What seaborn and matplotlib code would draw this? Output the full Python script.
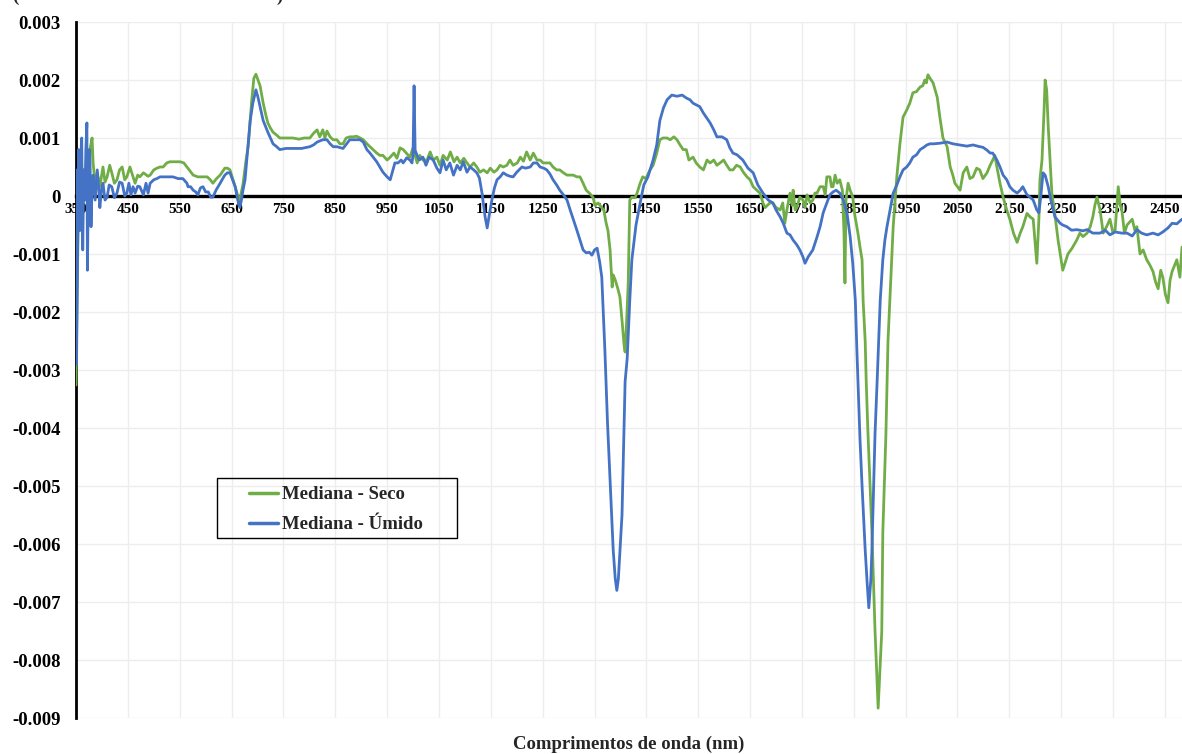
import numpy as np
import pandas as pd
import matplotlib
matplotlib.use("Agg")
import matplotlib.pyplot as plt
from matplotlib.patches import Rectangle
import seaborn as sns

# ---------------- data ----------------
seco_nm = [350, 352, 354, 357, 360, 363, 366, 369, 373, 377, 381, 383, 387, 391, 396, 402, 406, 410, 415, 419,
           424, 429, 434, 439, 444, 448, 454, 459, 464, 469, 473, 480, 489, 493, 500, 506, 512, 518, 525, 531,
           540, 551, 558, 564, 570, 576, 585, 595, 603, 609, 614, 621, 628, 637, 642, 647, 652, 657, 662, 664,
           672, 678, 682, 686, 689, 693, 697, 701, 705, 711, 716, 720, 725, 730, 737, 743, 755, 768, 780, 790,
           801, 808, 815, 820, 826, 830, 834, 840, 846, 853, 859, 865, 871, 878, 884, 891, 898, 904, 911, 917,
           923, 930, 936, 942, 950, 956, 963, 969, 975, 981, 987, 994, 1000, 1008, 1013, 1019, 1027, 1033, 1039, 1046,
           1052, 1058, 1066, 1072, 1079, 1085, 1091, 1098, 1104, 1110, 1117, 1123, 1129, 1136, 1143, 1149, 1156, 1162, 1168, 1174,
           1181, 1187, 1193, 1201, 1207, 1213, 1219, 1226, 1232, 1239, 1245, 1251, 1258, 1264, 1270, 1277, 1283, 1290, 1297, 1303,
           1309, 1316, 1322, 1328, 1334, 1340, 1347, 1351, 1357, 1364, 1368, 1372, 1376, 1380, 1384, 1386, 1390, 1395, 1399, 1403,
           1407, 1409, 1412, 1415, 1418, 1422, 1428, 1432, 1438, 1443, 1449, 1457, 1463, 1470, 1476, 1482, 1490, 1496, 1503, 1509,
           1515, 1521, 1527, 1532, 1540, 1546, 1553, 1560, 1567, 1573, 1580, 1586, 1592, 1599, 1605, 1611, 1617, 1624, 1631, 1637,
           1644, 1650, 1656, 1663, 1669, 1675, 1679, 1688, 1694, 1700, 1708, 1713, 1717, 1721, 1727, 1731, 1733, 1737, 1740, 1746,
           1752, 1756, 1760, 1766, 1771, 1775, 1779, 1785, 1791, 1795, 1798, 1804, 1807, 1810, 1814, 1818, 1823, 1828, 1831, 1833,
           1835, 1839, 1843, 1848, 1852, 1858, 1862, 1866, 1868, 1872, 1874, 1877, 1885, 1891, 1897, 1904, 1906, 1912, 1916, 1920,
           1926, 1933, 1939, 1945, 1952, 1958, 1964, 1971, 1978, 1983, 1987, 1990, 1993, 1997, 2003, 2011, 2016, 2022, 2030, 2036,
           2041, 2045, 2050, 2055, 2061, 2068, 2074, 2080, 2087, 2093, 2099, 2107, 2113, 2118, 2122, 2126, 2132, 2138, 2145, 2151,
           2158, 2165, 2171, 2176, 2184, 2190, 2196, 2203, 2207, 2209, 2213, 2217, 2219, 2222, 2225, 2232, 2238, 2244, 2253, 2258,
           2263, 2271, 2280, 2286, 2292, 2300, 2306, 2311, 2315, 2319, 2325, 2331, 2338, 2344, 2350, 2354, 2360, 2364, 2367, 2372,
           2377, 2382, 2387, 2392, 2396, 2402, 2408, 2415, 2421, 2427, 2432, 2437, 2442, 2446, 2451, 2456, 2460, 2464, 2469, 2473,
           2479, 2483]
seco_val = [-0.00326, -0.0018, -0.0006, 0.0001, -0.00016, 0.00045, -0.00007, 0.00036, -0.00024, 0.0008, 0.001, 0.00057, 0.0002, 0.0004, 0.00016, 0.0005, 0.00024, 0.00033, 0.00053, 0.0004,
            0.00022, 0.00028, 0.00045, 0.0005, 0.00028, 0.00033, 0.0005, 0.00036, 0.00022, 0.00036, 0.00033, 0.0004, 0.00034, 0.00036, 0.00045, 0.00048, 0.0005, 0.0005, 0.00057, 0.00059,
            0.00059, 0.00059, 0.00057, 0.0005, 0.00043, 0.00036, 0.00033, 0.00033, 0.00033, 0.00028, 0.00022, 0.0003, 0.00036, 0.00048, 0.00048, 0.00045, 0.0003, 0.00016, 0.0, -0.00015,
            0.0002, 0.00062, 0.00085, 0.0013, 0.00166, 0.00203, 0.0021, 0.002, 0.0019, 0.0016, 0.0014, 0.00126, 0.00117, 0.0011, 0.00105, 0.001, 0.001, 0.001, 0.00098, 0.001,
            0.001, 0.00108, 0.00114, 0.00102, 0.00114, 0.001, 0.00112, 0.00102, 0.00097, 0.00097, 0.0009, 0.0009, 0.001, 0.00102, 0.00102, 0.00103, 0.001, 0.00097, 0.0009, 0.00085,
            0.0008, 0.00074, 0.0007, 0.0007, 0.00062, 0.00067, 0.00074, 0.00065, 0.00083, 0.0008, 0.00074, 0.00067, 0.00083, 0.00057, 0.0007, 0.00062, 0.00062, 0.00076, 0.00062, 0.00067,
            0.00053, 0.0007, 0.00062, 0.00076, 0.00059, 0.00067, 0.00057, 0.00065, 0.00057, 0.0005, 0.00057, 0.0005, 0.00041, 0.00045, 0.0004, 0.00048, 0.00041, 0.00045, 0.00053, 0.0005,
            0.00053, 0.00062, 0.00053, 0.00057, 0.00067, 0.0006, 0.00076, 0.00062, 0.00074, 0.00062, 0.00062, 0.00057, 0.00057, 0.00057, 0.0005, 0.00045, 0.00045, 0.0004, 0.00036, 0.00036,
            0.00036, 0.00033, 0.00033, 0.00022, 0.0001, 0.00005, -0.00002, -0.00016, -0.00012, -0.0002, -0.00024, -0.00045, -0.0006, -0.00093, -0.00157, -0.00136, -0.00145, -0.0016, -0.00174, -0.00214,
            -0.00257, -0.00269, -0.00214, -0.0015, -0.00007, -0.00002, -0.00003, 0.00005, 0.00022, 0.00033, 0.0003, 0.00045, 0.00053, 0.00074, 0.00097, 0.001, 0.001, 0.00097, 0.00102, 0.00097,
            0.00088, 0.0008, 0.0008, 0.00062, 0.00067, 0.00057, 0.0005, 0.00045, 0.00062, 0.00057, 0.00062, 0.00053, 0.00057, 0.00062, 0.00053, 0.00045, 0.00045, 0.00053, 0.0005, 0.00041,
            0.00033, 0.00028, 0.00016, 0.0001, 0.00005, -0.00012, -0.0002, -0.00012, -0.00012, -0.0002, -0.00024, -0.00012, -0.00047, -0.00024, 0.00005, -0.00016, 0.0001, -0.00024, -0.0002, -0.00002,
            -0.00007, -0.0002, 0.00002, -0.00012, -0.00007, 0.00005, 0.00005, 0.00016, 0.00016, 0.00002, 0.00033, 0.00033, 0.00016, 0.00016, 0.00036, 0.00022, 0.00028, 0.0001, -0.0006, -0.0015,
            -0.00007, 0.00022, 0.0001, -0.00002, -0.00033, -0.00064, -0.00088, -0.0011, -0.0018, -0.0025, -0.0032, -0.004, -0.0058, -0.0075, -0.00883, -0.0075, -0.0058, -0.0041, -0.0025, -0.0017,
            -0.00053, 0.00033, 0.0009, 0.00136, 0.00148, 0.0016, 0.00178, 0.0018, 0.00188, 0.0019, 0.002, 0.00195, 0.00209, 0.00203, 0.00195, 0.0017, 0.00136, 0.001, 0.00085, 0.0005,
            0.00036, 0.00022, 0.00016, 0.0001, 0.0004, 0.0005, 0.0003, 0.00033, 0.00048, 0.00045, 0.0003, 0.0004, 0.00053, 0.00062, 0.0007, 0.0005, 0.00022, -0.00002, -0.00024, -0.0004,
            -0.00064, -0.0008, -0.00064, -0.00053, -0.0003, -0.00036, -0.0004, -0.00116, -0.0004, 0.00028, 0.00062, 0.00148, 0.002, 0.00183, 0.0012, 0.00005, -0.00033, -0.00076, -0.00128, -0.00114,
            -0.001, -0.0009, -0.00076, -0.00064, -0.0007, -0.00064, -0.00053, -0.00036, -0.00016, -0.00002, -0.00024, -0.00064, -0.00052, -0.0004, -0.00064, -0.00059, 0.00016, -0.00016, -0.00024, -0.00064,
            -0.0005, -0.00045, -0.0004, -0.00059, -0.00053, -0.001, -0.00093, -0.0011, -0.00119, -0.0013, -0.00148, -0.0016, -0.00128, -0.0014, -0.0017, -0.00184, -0.00145, -0.0013, -0.00119, -0.0011,
            -0.0014, -0.00088]

umido_nm = [350, 351, 353, 355, 357, 359, 361, 363, 365, 367, 369, 371, 372, 374, 376, 377, 379, 381, 383, 387,
            391, 394, 396, 399, 402, 406, 410, 414, 419, 424, 429, 434, 439, 444, 448, 452, 456, 460, 464, 469,
            473, 480, 485, 489, 493, 500, 506, 512, 518, 528, 537, 547, 556, 564, 566, 571, 576, 581, 585, 590,
            595, 600, 605, 610, 614, 620, 628, 633, 637, 642, 647, 652, 657, 662, 666, 669, 672, 676, 682, 686,
            691, 697, 701, 705, 711, 720, 725, 730, 737, 743, 755, 768, 785, 801, 808, 815, 826, 834, 840, 846,
            853, 865, 872, 878, 884, 898, 904, 911, 917, 923, 930, 936, 942, 950, 956, 960, 965, 971, 977, 981,
            988, 994, 998, 1000, 1002, 1004, 1006, 1012, 1019, 1025, 1031, 1039, 1046, 1052, 1058, 1064, 1071, 1078, 1085, 1091,
            1097, 1104, 1110, 1117, 1123, 1128, 1133, 1139, 1143, 1147, 1152, 1157, 1162, 1168, 1174, 1181, 1187, 1193, 1200, 1210,
            1217, 1226, 1232, 1239, 1245, 1252, 1258, 1264, 1270, 1277, 1283, 1290, 1297, 1303, 1309, 1316, 1322, 1328, 1334, 1340,
            1345, 1350, 1355, 1360, 1364, 1370, 1375, 1380, 1386, 1390, 1393, 1396, 1403, 1409, 1413, 1418, 1422, 1430, 1438, 1445,
            1453, 1463, 1470, 1476, 1483, 1490, 1499, 1509, 1519, 1527, 1534, 1540, 1553, 1560, 1567, 1573, 1580, 1586, 1596, 1605,
            1611, 1617, 1625, 1636, 1646, 1656, 1665, 1675, 1685, 1694, 1700, 1708, 1714, 1721, 1727, 1733, 1740, 1746, 1752, 1756,
            1762, 1771, 1779, 1785, 1791, 1798, 1804, 1810, 1816, 1823, 1830, 1837, 1843, 1848, 1853, 1856, 1862, 1866, 1872, 1876,
            1879, 1883, 1885, 1891, 1895, 1901, 1906, 1910, 1914, 1920, 1926, 1933, 1939, 1945, 1952, 1958, 1964, 1971, 1978, 1985,
            1991, 1997, 2005, 2016, 2030, 2041, 2055, 2068, 2080, 2093, 2099, 2107, 2113, 2118, 2126, 2132, 2138, 2145, 2151, 2157,
            2165, 2171, 2176, 2184, 2190, 2196, 2203, 2207, 2211, 2215, 2219, 2225, 2230, 2238, 2248, 2253, 2261, 2270, 2280, 2292,
            2300, 2311, 2325, 2335, 2344, 2354, 2367, 2377, 2387, 2396, 2405, 2415, 2427, 2437, 2446, 2456, 2464, 2473, 2483]
umido_val = [0.00045, -0.0029, -0.0011, 0.0008, -0.0006, 0.00062, 0.001, -0.00093, 0.00045, -0.00007, 0.0008, 0.00126, -0.00128, 0.00028, 0.0008, 0.00062, -0.00053, 0.00016, 0.00036, -0.00007,
             0.00045, 0.0001, -0.0002, 0.0001, 0.00022, -0.00007, -0.00002, 0.00019, 0.00016, -0.00003, 0.00005, 0.00024, 0.00022, 0.0, 0.00005, 0.00022, 0.00002, 0.00016, 0.00005, 0.00017,
             0.00016, 0.00002, 0.00022, 0.00005, 0.00022, 0.00028, 0.0003, 0.00033, 0.00033, 0.00033, 0.00033, 0.0003, 0.0003, 0.00022, 0.00016, 0.00016, 0.0001, 0.00007, 0.00002, 0.00014,
             0.00016, 0.00007, 0.00007, -0.00002, -0.00002, 0.0001, 0.00022, 0.0003, 0.00036, 0.0004, 0.0004, 0.00028, 0.00016, -0.00007, -0.0002, -0.00007, 0.0001, 0.00028, 0.0009, 0.0013,
             0.0016, 0.00183, 0.0017, 0.00154, 0.0013, 0.0011, 0.001, 0.0009, 0.00085, 0.0008, 0.00082, 0.00082, 0.00082, 0.00085, 0.00088, 0.00093, 0.00097, 0.00097, 0.0009, 0.00085,
             0.00085, 0.00082, 0.0009, 0.00097, 0.00097, 0.00097, 0.00093, 0.0008, 0.00074, 0.00067, 0.00059, 0.0005, 0.00041, 0.00033, 0.00028, 0.00041, 0.00057, 0.00057, 0.00062, 0.00057,
             0.00066, 0.00062, 0.00057, 0.00071, 0.0019, 0.00079, 0.00074, 0.00062, 0.00067, 0.00053, 0.00067, 0.00062, 0.00048, 0.0004, 0.00062, 0.00045, 0.00057, 0.00036, 0.00053, 0.00045,
             0.00059, 0.00041, 0.0005, 0.00045, 0.0004, 0.00031, 0.00005, -0.00036, -0.00055, -0.00033, -0.00007, 0.00014, 0.00028, 0.00033, 0.0004, 0.00036, 0.00034, 0.00033, 0.00041, 0.0005,
             0.00048, 0.0005, 0.00057, 0.00057, 0.0005, 0.00048, 0.00045, 0.00038, 0.00028, 0.00019, 0.0001, 0.00002, -0.00007, -0.00024, -0.0004, -0.00059, -0.00076, -0.00093, -0.00098, -0.00097,
             -0.00102, -0.00093, -0.0009, -0.00114, -0.0014, -0.00266, -0.0039, -0.0049, -0.0061, -0.0066, -0.0068, -0.0066, -0.0055, -0.0032, -0.0028, -0.0018, -0.0011, -0.0005, -0.00012, 0.00019,
             0.00033, 0.00062, 0.00088, 0.0013, 0.00152, 0.00166, 0.00174, 0.00172, 0.00174, 0.00169, 0.00166, 0.0016, 0.00154, 0.00143, 0.00134, 0.00126, 0.00114, 0.00102, 0.00102, 0.00097,
             0.00083, 0.00074, 0.00071, 0.00062, 0.00048, 0.0004, 0.00019, 0.00005, -0.00007, -0.00012, -0.00024, -0.00036, -0.00047, -0.00064, -0.00067, -0.00076, -0.00084, -0.00093, -0.00105, -0.00116,
             -0.00105, -0.00093, -0.00071, -0.00053, -0.00029, -0.00012, 0.00002, 0.00007, 0.0001, 0.00005, -0.00007, -0.0003, -0.0007, -0.00116, -0.0018, -0.00266, -0.0042, -0.005, -0.0061, -0.0067,
             -0.0071, -0.0066, -0.0061, -0.0041, -0.0032, -0.0018, -0.0011, -0.00076, -0.00053, -0.00024, 0.00005, 0.00019, 0.00033, 0.00045, 0.0005, 0.00057, 0.00067, 0.00071, 0.0008, 0.00084,
             0.00088, 0.0009, 0.0009, 0.00091, 0.00093, 0.0009, 0.00088, 0.00086, 0.00088, 0.00085, 0.00084, 0.00079, 0.00074, 0.00074, 0.00062, 0.0005, 0.00036, 0.00028, 0.00016, 0.0001,
             0.00005, 0.0001, 0.00016, 0.00002, -0.00002, -0.00007, -0.00024, -0.00029, 0.00002, 0.0004, 0.00036, 0.00016, -0.00007, -0.00036, -0.00047, -0.0005, -0.00053, -0.00059, -0.00058, -0.0006,
             -0.00058, -0.00064, -0.00064, -0.00059, -0.00067, -0.00062, -0.00064, -0.00064, -0.00069, -0.00058, -0.00064, -0.00067, -0.00064, -0.00067, -0.00062, -0.00055, -0.00047, -0.00048, -0.0004]

series_labels = ["Mediana - Seco", "Mediana - Úmido"]
x_ticks = list(range(350, 2451, 100))
y_ticks = [0.003, 0.002, 0.001, 0, -0.001, -0.002, -0.003, -0.004, -0.005, -0.006, -0.007, -0.008, -0.009]
y_tick_labels = ["0.003", "0.002", "0.001", "0", "-0.001", "-0.002", "-0.003", "-0.004",
                 "-0.005", "-0.006", "-0.007", "-0.008", "-0.009"]
x_title = "Comprimentos de onda (nm)"

# ---------------- style ----------------
sns.set_theme(style="white")
plt.rcParams["font.family"] = ["Liberation Serif", "DejaVu Serif"]
plt.rcParams["font.weight"] = "bold"

W, H = 1182, 754
fig = plt.figure(figsize=(W / 100, H / 100), dpi=100)
ax = fig.add_axes([76 / W, (H - 718) / H, 1106 / W, 696 / H])

green = "#70AD47"
blue = "#4472C4"

df_s = pd.DataFrame({"nm": seco_nm, "val": seco_val})
df_u = pd.DataFrame({"nm": umido_nm, "val": umido_val})
sns.lineplot(data=df_s, x="nm", y="val", ax=ax, color=green, lw=2.0, zorder=4, label=series_labels[0])
sns.lineplot(data=df_u, x="nm", y="val", ax=ax, color=blue, lw=2.0, zorder=4, label=series_labels[1])

ax.set_xlim(350, 2483)
ax.set_ylim(-0.009, 0.003)

ax.set_xticks(x_ticks)
ax.set_xticklabels([str(t) for t in x_ticks], fontsize=11.5, fontweight="bold")
ax.set_yticks(y_ticks)
ax.set_yticklabels(y_tick_labels, fontsize=13.5, fontweight="bold")
ax.tick_params(axis="x", length=0, pad=5, colors="black")
ax.tick_params(axis="y", length=0, pad=11, colors="black")

ax.grid(True, color="#EDEDED", lw=1.0)
ax.set_axisbelow(True)

for side in ["top", "right"]:
    ax.spines[side].set_visible(False)
ax.spines["bottom"].set_position(("data", 0))
ax.spines["bottom"].set_color("black")
ax.spines["bottom"].set_linewidth(2.4)
ax.spines["left"].set_color("black")
ax.spines["left"].set_linewidth(2.0)
ax.set_xlabel("")
ax.set_ylabel("")

# x-axis title
fig.text(629 / W, 1 - 744 / H, x_title, ha="center", va="center", fontsize=13.5, fontweight="bold")

# partially visible caption line at the very top
fig.text(12 / W, 1 - 1 / H, "(", ha="left", va="baseline", fontsize=13.5, fontweight="bold")
fig.text(276 / W, 1 - 1 / H, ")", ha="left", va="baseline", fontsize=13.5, fontweight="bold")

# legend (frame drawn separately)
leg = ax.legend(loc="upper left", bbox_to_anchor=(240 / W, 1 - 477 / H), bbox_transform=fig.transFigure,
                frameon=False, borderpad=0, handlelength=1.55, handletextpad=0.2, labelspacing=0.67,
                prop={"size": 13.5, "weight": "bold", "family": "Liberation Serif"})
for line in leg.get_lines():
    line.set_linewidth(2.5)
fig.patches.append(Rectangle((217 / W, 1 - 538 / H), 240 / W, 60 / H, transform=fig.transFigure,
                             fill=False, edgecolor="black", lw=1.0, zorder=5))

fig.savefig("out.png", dpi=100)
